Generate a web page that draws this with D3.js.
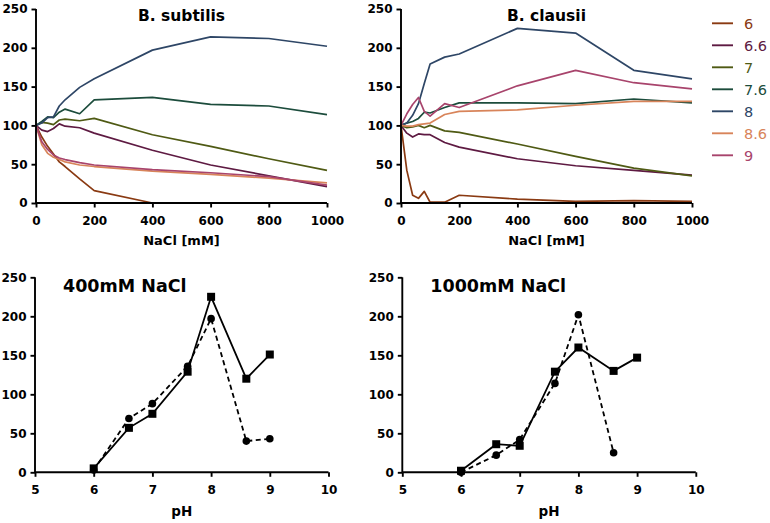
<!DOCTYPE html>
<html><head><meta charset="utf-8">
<script src="https://cdn.jsdelivr.net/npm/d3@7"></script>
<style>
body{margin:0;background:#fff;}
text{font-family:"DejaVu Sans",sans-serif;}
</style></head><body>
<svg id="c" width="770" height="523"></svg>
<script>
const nacl = [0,20,40,60,80,100,150,200,400,600,800,1000];
const phLabels = ["6","6.6","7","7.6","8","8.6","9"];
const phValues = [6,6.6,7,7.6,8,8.6,9];
const colors = ["#8a3a12","#5e1a42","#4f5a14","#1c4c3c","#2e4666","#d8845a","#a8446c"];

// B. subtilis, one array per pH
const sub6  = [100,85,73,63,53,47,31,16,0,0,0,0];
const sub66 = [100,94,92,96,102,99,97,90,68,49,35,21];
const sub7  = [100,104,103,101,107,108,106,109,88,73,57,42];
const sub76 = [100,105,111,110,117,121,115,133,136,127,125,114];
const sub8  = [100,103,110,111,125,133,149,160,197,214,212,202];
const sub86 = [100,75,64,59,56,53,49,47,41,37,32,26];
const sub9  = [100,79,69,62,58,56,52,49,43,39,34,23];

// B. clausii
const cla6  = [100,42,10,6,15,1,1,10,5,2,3,2];
const cla66 = [100,90,85,89,88,88,78,72,57,48,42,36];
const cla7  = [100,97,98,100,97,100,93,91,76,60,45,35];
const cla76 = [100,103,105,109,117,116,123,129,129,128,134,129];
const cla8  = [100,103,113,128,154,179,188,192,225,219,171,160];
const cla86 = [100,99,99,101,102,103,114,118,120,126,131,131];
const cla9  = [100,115,127,136,118,112,128,123,151,171,155,147];

// Bottom panels: circles = B. subtilis (dashed), squares = B. clausii (solid)
const ph400Circle  = [3,69,88,136,197,40,43];
const ph400Square  = [5,57,75,129,225,120,151];
const ph1000CirclePh = [6,6.6,7,7.6,8,8.6];
const ph1000Circle = [0,22,42,114,202,25];
const ph1000Square = [2,36,34,129,160,130,147];

const yTicks = [0,50,100,150,200,250];
const naclTicks = [0,200,400,600,800,1000];
const phTicks = [5,6,7,8,9,10];

const svg = d3.select("#c");
const FONT = "'DejaVu Sans',sans-serif";

function axes(g, x, y, xt, yt){
  const ax = g.append("g").attr("transform",`translate(0,${y.range()[0]})`)
    .call(d3.axisBottom(x).tickValues(xt).tickSize(4.5).tickPadding(8.5).tickFormat(d3.format("d")));
  const ay = g.append("g").attr("transform",`translate(${x.range()[0]},0)`)
    .call(d3.axisLeft(y).tickValues(yt).tickSize(4.5).tickPadding(4));
  [ax,ay].forEach(a=>{
    a.attr("font-family",FONT).attr("font-size",12);
    a.selectAll("path").attr("stroke","#000").attr("stroke-width",1.9);
    a.selectAll("line").attr("stroke","#000").attr("stroke-width",1.9);
    a.selectAll("text").attr("fill","#000").attr("font-size",12).attr("font-weight","bold")
      .attr("font-family",FONT);
  });
  ay.select(".domain").attr("d",`M0,${y.range()[0]}V${y.range()[1]}`);
  ax.select(".domain").attr("d",`M${x.range()[0]},0H${x.range()[1]}`);
}

function topPanel(x0, title, series){
  const x = d3.scaleLinear().domain([0,1000]).range([x0, x0+291]);
  const y = d3.scaleLinear().domain([0,250]).range([203,9]);
  const g = svg.append("g");
  const line = d3.line().x((d,i)=>x(nacl[i])).y(d=>y(d));
  series.forEach((s,k)=>{
    g.append("path").attr("d",line(s)).attr("fill","none")
      .attr("stroke",colors[k]).attr("stroke-width",1.7).attr("stroke-linejoin","round");
  });
  axes(g,x,y,naclTicks,yTicks);
  g.append("text").attr("x",(x.range()[0]+x.range()[1])/2).attr("y",21)
    .attr("text-anchor","middle").attr("font-size",15.5).attr("font-weight","bold").text(title);
  g.append("text").attr("x",(x.range()[0]+x.range()[1])/2).attr("y",245)
    .attr("text-anchor","middle").attr("font-size",13).attr("font-weight","bold").text("NaCl [mM]");
}

topPanel(36,"B. subtilis",[sub6,sub66,sub7,sub76,sub8,sub86,sub9]);
topPanel(401,"B. clausii",[cla6,cla66,cla7,cla76,cla8,cla86,cla9]);

// legend
const lg = svg.append("g");
phLabels.forEach((l,i)=>{
  const yy = 23.3 + i*22;
  lg.append("line").attr("x1",712).attr("x2",733).attr("y1",yy).attr("y2",yy)
    .attr("stroke",colors[i]).attr("stroke-width",1.9);
  lg.append("text").attr("x",744).attr("y",yy+5.2).attr("font-size",14.5)
    .attr("font-family","'Liberation Sans',Arial,sans-serif")
    .attr("fill",colors[i]).text(l);
});

function bottomPanel(x0, title, cx, cy, sq){
  const x = d3.scaleLinear().domain([5,10]).range([x0, x0+293.5]);
  const y = d3.scaleLinear().domain([0,250]).range([472.3,277.3]);
  const g = svg.append("g");
  const line = d3.line().x(d=>x(d[0])).y(d=>y(d[1]));
  const sqPts = phValues.map((p,i)=>[p,sq[i]]);
  const cPts = cx.map((p,i)=>[p,cy[i]]);
  g.append("path").attr("d",line(cPts)).attr("fill","none").attr("stroke","#000")
    .attr("stroke-width",1.8).attr("stroke-dasharray","5,3.5");
  g.append("path").attr("d",line(sqPts)).attr("fill","none").attr("stroke","#000")
    .attr("stroke-width",1.8);
  g.selectAll(".c").data(cPts).enter().append("circle")
    .attr("cx",d=>x(d[0])).attr("cy",d=>y(d[1])).attr("r",3.8).attr("fill","#000");
  g.selectAll(".s").data(sqPts).enter().append("rect")
    .attr("x",d=>x(d[0])-4).attr("y",d=>y(d[1])-4).attr("width",8).attr("height",8).attr("fill","#000");
  axes(g,x,y,phTicks,yTicks);
  g.append("text").attr("x",x0+28).attr("y",292).attr("font-size",17.5).attr("font-weight","bold").text(title);
  g.append("text").attr("x",(x.range()[0]+x.range()[1])/2).attr("y",516)
    .attr("text-anchor","middle").attr("font-size",13.5).attr("font-weight","bold").text("pH");
}

bottomPanel(35,"400mM NaCl",phValues,ph400Circle,ph400Square);
bottomPanel(402.3,"1000mM NaCl",ph1000CirclePh,ph1000Circle,ph1000Square);
</script>
</body></html>
